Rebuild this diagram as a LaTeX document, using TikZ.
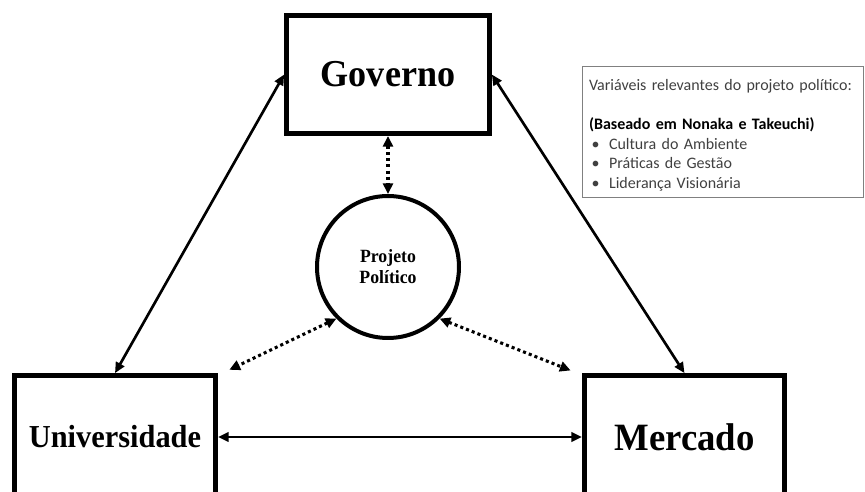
\documentclass[tikz,border=0pt]{standalone}
\usepackage{fontspec}
\setmainfont{Liberation Serif}
\newfontfamily\labelfont[FakeStretch=0.95]{Liberation Serif}
\newfontfamily\notefont{Carlito}
\usetikzlibrary{arrows.meta}

\tikzset{
  actor/.style={draw, rectangle, line width=3.8pt, inner sep=0pt,
    font=\labelfont\bfseries},
  link/.style={line width=2pt,
    {Triangle[length=8pt,width=7pt]}-{Triangle[length=8pt,width=7pt]}},
  dotlink/.style={line width=2.3pt, dash pattern=on 2.3pt off 2.3pt,
    {Triangle[length=8pt,width=7.5pt]}-{Triangle[length=8pt,width=7.5pt]}}
}

\begin{document}
\begin{tikzpicture}[x=0.75pt,y=0.75pt]
\useasboundingbox (0,0) rectangle (865,492);
\clip (0,0) rectangle (865,492);

% the three actors
\node[actor, minimum width=152pt, minimum height=88.5pt,
  font=\labelfont\bfseries\fontsize{28.5}{30}\selectfont] (gov) at (388,417.5) {Governo};
\node[actor, minimum width=150.75pt, minimum height=92pt,
  font=\labelfont\bfseries\fontsize{24}{26}\selectfont] (uni) at (115,55) {Universidade};
\node[actor, minimum width=150pt, minimum height=92pt,
  font=\labelfont\bfseries\fontsize{29}{31}\selectfont] (mer) at (684.5,55) {Mercado};

% political project in the middle
\node[draw, circle, line width=3pt, minimum size=106.5pt, inner sep=0pt, align=center,
  font=\labelfont\bfseries\fontsize{14}{15.75}\selectfont] (proj) at (388,225) {Projeto\\Político};

% note box
\node[draw=black!50, line width=0.8pt, anchor=north west, inner xsep=4.5pt, inner ysep=4.5pt,
  text width=201pt, minimum width=210.75pt, minimum height=98pt, align=left,
  text=black!75, font=\notefont\fontsize{12}{14.65}\selectfont] (note) at (582,426)
  {\rule{0pt}{13.5pt}Variáveis relevantes do projeto político:\\[\baselineskip]
   {\color{black}\bfseries (Baseado em Nonaka e Takeuchi)}\\
   \makebox[15pt][l]{\hspace{2pt}\textbullet}Cultura do Ambiente\\
   \makebox[15pt][l]{\hspace{2pt}\textbullet}Práticas de Gestão\\
   \makebox[15pt][l]{\hspace{2pt}\textbullet}Liderança Visionária};

% relations between actors
\draw[link] (uni.north) -- (gov.west);
\draw[link] (gov.east) -- (mer.north);
\draw[link] (uni.east) -- (mer.west);

% links to the project
\draw[dotlink] (gov.south) -- (proj.north);
\draw[dotlink] (proj.225) -- ([shift={(8.5pt,2.5pt)}]uni.north east);
\draw[dotlink] (proj.-45) -- ([shift={(-8.5pt,2pt)}]mer.north west);
\end{tikzpicture}
\end{document}
